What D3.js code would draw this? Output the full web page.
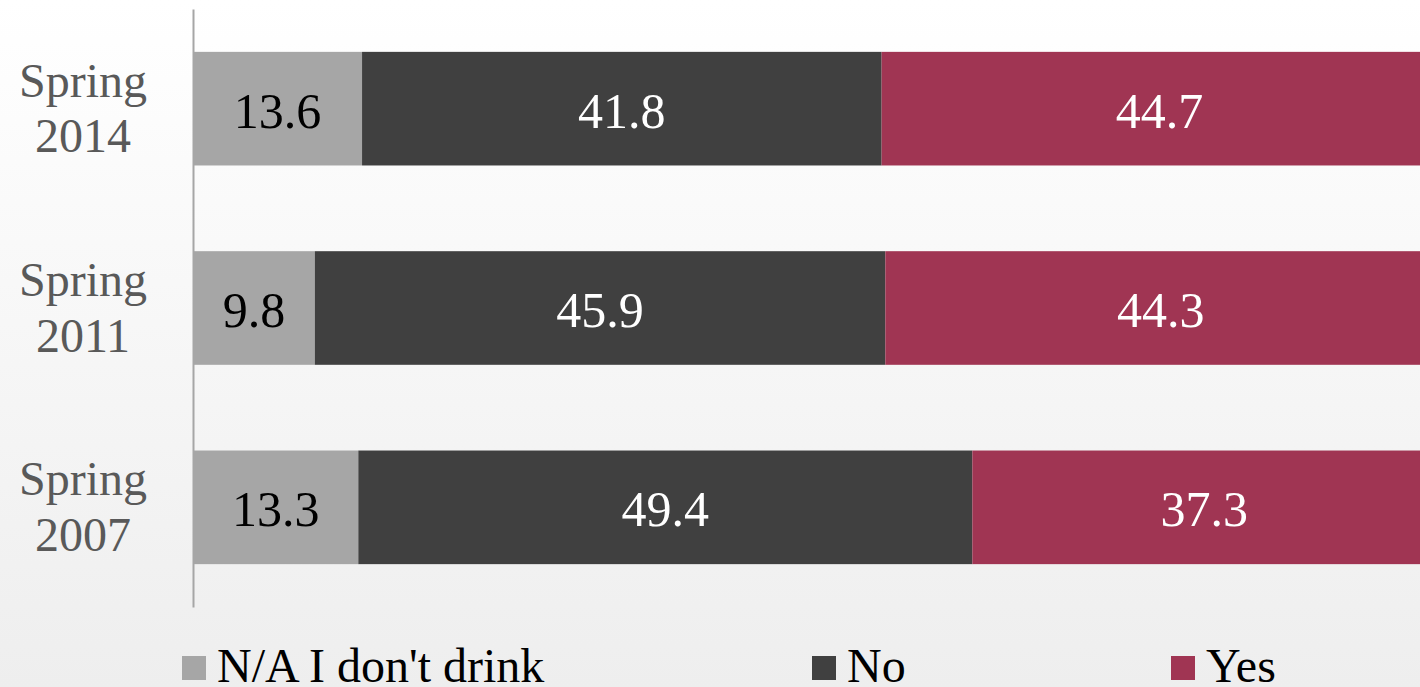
<!DOCTYPE html>
<html>
<head>
<meta charset="utf-8">
<script src="https://cdn.jsdelivr.net/npm/d3@7"></script>
<style>
  html, body { margin: 0; padding: 0; overflow: hidden; }
</style>
</head>
<body>
<div id="wrapper"></div>
<script>
// Survey periods, top to bottom
const periods = ["Spring 2014", "Spring 2011", "Spring 2007"]
// Series (stack order, left to right)
const seriesNames = ["N/A I don't drink", "No", "Yes"]
const naValues = [13.6, 9.8, 13.3]
const noValues = [41.8, 45.9, 49.4]
const yesValues = [44.7, 44.3, 37.3]
const colors = ["#a6a6a6", "#404040", "#a03553"]
const labelColors = ["#000000", "#ffffff", "#ffffff"]

const dimensions = {
  width: 1420,
  height: 687,
  margin: { top: 9, right: -16, bottom: 80, left: 193 },
}
dimensions.boundedWidth = dimensions.width - dimensions.margin.left - dimensions.margin.right
dimensions.boundedHeight = dimensions.height - dimensions.margin.top - dimensions.margin.bottom

function drawChart() {
  const table = periods.map((p, i) => ({
    period: p,
    [seriesNames[0]]: naValues[i],
    [seriesNames[1]]: noValues[i],
    [seriesNames[2]]: yesValues[i],
  }))
  const stacked = d3.stack().keys(seriesNames)(table)

  const svg = d3.select("#wrapper")
    .append("svg")
      .attr("width", dimensions.width)
      .attr("height", dimensions.height)
      .style("display", "block")

  // soft background gradient
  const grad = svg.append("defs").append("linearGradient")
    .attr("id", "bg")
    .attr("x1", 0).attr("y1", 0).attr("x2", 0).attr("y2", 1)
  grad.append("stop").attr("offset", "0%").attr("stop-color", "#ffffff")
  grad.append("stop").attr("offset", "100%").attr("stop-color", "#eeeeee")
  svg.append("rect")
    .attr("width", dimensions.width)
    .attr("height", dimensions.height)
    .attr("fill", "url(#bg)")

  const bounds = svg.append("g")
    .attr("transform", `translate(${dimensions.margin.left},${dimensions.margin.top})`)

  const xScale = d3.scaleLinear()
    .domain([0, 100])
    .range([0, dimensions.boundedWidth])

  const yScale = d3.scaleBand()
    .domain(periods)
    .range([0, dimensions.boundedHeight])
    .paddingInner(0.43)
    .paddingOuter(0.215)

  // bars
  const layers = bounds.selectAll(".layer")
    .data(stacked)
    .join("g")
      .attr("fill", (d, i) => colors[i])

  layers.selectAll("rect")
    .data(d => d)
    .join("rect")
      .attr("x", d => xScale(d[0]))
      .attr("y", d => yScale(d.data.period))
      .attr("width", d => xScale(d[1]) - xScale(d[0]))
      .attr("height", yScale.bandwidth())

  // value labels
  stacked.forEach((layer, i) => {
    bounds.append("g")
      .selectAll("text")
      .data(layer)
      .join("text")
        .attr("x", d => xScale((d[0] + d[1]) / 2))
        .attr("y", d => yScale(d.data.period) + yScale.bandwidth() / 2)
        .attr("dy", "0.38em")
        .attr("text-anchor", "middle")
        .attr("font-family", "'Liberation Serif', 'Times New Roman', serif")
        .attr("font-size", 50)
        .attr("fill", labelColors[i])
        .text(d => d[1] - d[0] === 0 ? "" : d3.format(".1f")(d.data[layer.key]))
  })

  // y axis: line plus two-line category labels
  const yAxisGenerator = d3.axisLeft(yScale).tickSize(0).tickFormat("")
  const yAxis = bounds.append("g").call(yAxisGenerator)
  yAxis.select(".domain")
    .attr("stroke", "#a6a6a6")
    .attr("stroke-width", 2)

  const catLabels = bounds.append("g")
    .selectAll("text")
    .data(periods)
    .join("text")
      .attr("x", -110)
      .attr("y", d => yScale(d) + yScale.bandwidth() / 2)
      .attr("text-anchor", "middle")
      .attr("font-family", "'Liberation Serif', 'Times New Roman', serif")
      .attr("font-size", 48)
      .attr("fill", "#595959")
  catLabels.each(function(d) {
    const parts = d.split(" ")
    const t = d3.select(this)
    t.append("tspan").attr("x", -110).attr("dy", "-0.25em").text(parts[0])
    t.append("tspan").attr("x", -110).attr("dy", "1.16em").text(parts[1])
  })

  // legend
  const legendX = [182, 812, 1171]
  const legend = svg.append("g")
    .selectAll("g")
    .data(seriesNames)
    .join("g")
      .attr("transform", (d, i) => `translate(${legendX[i]},656)`)
  legend.append("rect")
    .attr("width", 24)
    .attr("height", 24)
    .attr("fill", (d, i) => colors[i])
  legend.append("text")
    .attr("x", 35)
    .attr("y", 26)
    .attr("font-family", "'Liberation Serif', 'Times New Roman', serif")
    .attr("font-size", 48)
    .attr("fill", "#000000")
    .text(d => d)
}

drawChart()
</script>
</body>
</html>
